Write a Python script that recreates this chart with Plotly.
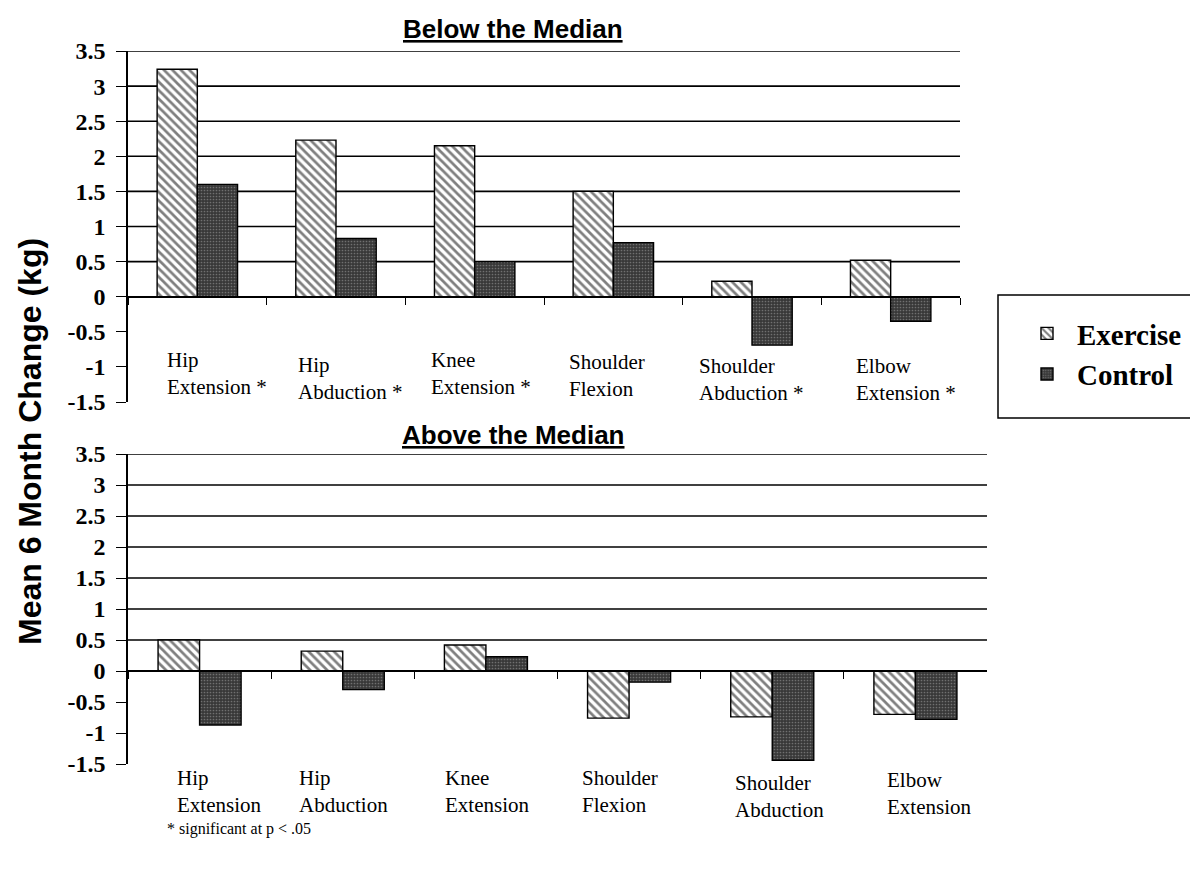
import plotly.graph_objects as go

# ---------------- data ----------------
CATEGORIES = ["Hip Extension", "Hip Abduction", "Knee Extension",
              "Shoulder Flexion", "Shoulder Abduction", "Elbow Extension"]
LABELS_BELOW = ["Hip<br>Extension *", "Hip<br>Abduction *", "Knee<br>Extension *",
                "Shoulder<br>Flexion", "Shoulder<br>Abduction *", "Elbow<br>Extension *"]
LABELS_ABOVE = ["Hip<br>Extension", "Hip<br>Abduction", "Knee<br>Extension",
                "Shoulder<br>Flexion", "Shoulder<br>Abduction", "Elbow<br>Extension"]
BELOW_EXERCISE = [3.24, 2.23, 2.15, 1.50, 0.22, 0.52]
BELOW_CONTROL = [1.60, 0.83, 0.50, 0.77, -0.69, -0.35]
ABOVE_EXERCISE = [0.50, 0.32, 0.42, -0.76, -0.74, -0.70]
ABOVE_CONTROL = [-0.87, -0.30, 0.23, -0.18, -1.44, -0.78]
Y_TICKS = [-1.5, -1, -0.5, 0, 0.5, 1, 1.5, 2, 2.5, 3, 3.5]
GRID_VALUES = [0, 0.5, 1, 1.5, 2, 2.5, 3, 3.5]
SERIES_NAMES = ["Exercise", "Control"]

# ---------------- layout helpers ----------------
W, H = 1198, 869
PAGE_OFFSET = 8  # the page body margin shifts the figure by this many pixels


def px(x):
    return (x - PAGE_OFFSET) / W


def py(y):
    return 1 - (y - PAGE_OFFSET) / H


SERIF = "Liberation Serif"
SANS = "Liberation Sans"
Y_RANGE = [-1.5, 3.5]

TOP_X = (128, 960)
TOP_Y = (51, 402)
BOT_X = (128, 987)
BOT_Y = (454, 764)


def tick_text(v):
    return "%g" % v


def zero_pos(ydom):
    lo, hi = py(ydom[1]), py(ydom[0])
    return lo + (0 - Y_RANGE[0]) / (Y_RANGE[1] - Y_RANGE[0]) * (hi - lo)


exercise_marker = dict(color="white", line=dict(color="black", width=1.4),
                       pattern=dict(shape="\\", fgcolor="black", bgcolor="white",
                                    size=6, solidity=0.45))
control_marker = dict(color="#383838", line=dict(color="black", width=1.4),
                      pattern=dict(shape=".", fgcolor="#a8a8a8", bgcolor="#383838",
                                   size=3, solidity=0.25))

fig = go.Figure()
fig.add_trace(go.Bar(x=CATEGORIES, y=BELOW_EXERCISE, name=SERIES_NAMES[0],
                     marker=exercise_marker, xaxis="x", yaxis="y"))
fig.add_trace(go.Bar(x=CATEGORIES, y=BELOW_CONTROL, name=SERIES_NAMES[1],
                     marker=control_marker, xaxis="x", yaxis="y"))
fig.add_trace(go.Bar(x=CATEGORIES, y=ABOVE_EXERCISE, name=SERIES_NAMES[0],
                     marker=exercise_marker, xaxis="x2", yaxis="y2", showlegend=False))
fig.add_trace(go.Bar(x=CATEGORIES, y=ABOVE_CONTROL, name=SERIES_NAMES[1],
                     marker=control_marker, xaxis="x2", yaxis="y2", showlegend=False))

ytick_font = dict(family=SERIF, size=24, color="black", weight="bold")


def xaxis_cfg(xdom, ydom):
    return dict(domain=[px(xdom[0]), px(xdom[1])], type="category",
                categoryorder="array", categoryarray=CATEGORIES,
                range=[-0.5, 5.5], anchor="free", position=zero_pos(ydom),
                showline=True, linecolor="black", linewidth=1.6,
                ticks="outside", tickson="boundaries", ticklen=7, tickwidth=1.4,
                tickcolor="black", showticklabels=False, showgrid=False,
                zeroline=False, fixedrange=True, automargin=False)


def yaxis_cfg(ydom, anchor):
    return dict(domain=[py(ydom[1]), py(ydom[0])], range=Y_RANGE, anchor=anchor,
                tickvals=Y_TICKS, ticktext=[tick_text(v) for v in Y_TICKS],
                tickfont=ytick_font, ticks="outside", ticklen=10, tickwidth=1.4,
                tickcolor="black", ticklabelstandoff=6,
                showline=True, linecolor="black", linewidth=1.6,
                showgrid=False, zeroline=False, fixedrange=True, automargin=False)


# horizontal grid lines (only for the non-negative values, as in the original)
shapes = []
for xr, yr in (("x domain", "y"), ("x2 domain", "y2")):
    for v in GRID_VALUES:
        shapes.append(dict(type="line", xref=xr, yref=yr, x0=0, x1=1, y0=v, y1=v,
                           layer="below", line=dict(color="black", width=1.6)))

# legend frame
shapes.append(dict(type="rect", xref="paper", yref="paper", x0=px(998), x1=px(1215),
                   y0=py(418), y1=py(295), line=dict(color="black", width=1.5),
                   fillcolor="rgba(0,0,0,0)", layer="above"))

annotations = []
TOP_LABEL_SHIFT = [-32, -40, -46, -46, -55, -37]
TOP_LABEL_Y = [373, 378, 373, 376, 380, 379]
BOT_LABEL_SHIFT = [-25, -46, -43, -49, -39, -30]
BOT_LABEL_Y = [791, 791, 791, 791, 796, 793]
for i, cat in enumerate(CATEGORIES):
    annotations.append(dict(x=cat, xref="x", y=py(TOP_LABEL_Y[i]), yref="paper",
                            text=LABELS_BELOW[i], showarrow=False, xanchor="left",
                            yanchor="middle", align="left", xshift=TOP_LABEL_SHIFT[i],
                            font=dict(family=SERIF, size=21, color="black")))
    annotations.append(dict(x=cat, xref="x2", y=py(BOT_LABEL_Y[i]), yref="paper",
                            text=LABELS_ABOVE[i], showarrow=False, xanchor="left",
                            yanchor="middle", align="left", xshift=BOT_LABEL_SHIFT[i],
                            font=dict(family=SERIF, size=21, color="black")))

annotations += [
    dict(x=px(513), y=py(29), xref="paper", yref="paper", showarrow=False,
         text="<b><u>Below the Median</u></b>", xanchor="center", yanchor="middle",
         font=dict(family=SANS, size=26, color="black")),
    dict(x=px(513), y=py(435), xref="paper", yref="paper", showarrow=False,
         text="<b><u>Above the Median</u></b>", xanchor="center", yanchor="middle",
         font=dict(family=SANS, size=26, color="black")),
    dict(x=px(30), y=py(442), xref="paper", yref="paper", showarrow=False,
         text="<b>Mean 6 Month Change (kg)</b>", textangle=-90,
         xanchor="center", yanchor="middle",
         font=dict(family=SANS, size=32, color="black")),
    dict(x=px(165), y=py(829), xref="paper", yref="paper", showarrow=False,
         text="* significant at p &lt; .05", xanchor="left", yanchor="middle",
         font=dict(family=SERIF, size=16, color="black")),
]

fig.update_layout(
    width=W, height=H,
    margin=dict(l=0, r=0, t=0, b=0, pad=0, autoexpand=False),
    paper_bgcolor="white", plot_bgcolor="white",
    barmode="group", bargap=0.42, bargroupgap=0,
    xaxis=xaxis_cfg(TOP_X, TOP_Y),
    yaxis=yaxis_cfg(TOP_Y, "x"),
    xaxis2=xaxis_cfg(BOT_X, BOT_Y),
    yaxis2=yaxis_cfg(BOT_Y, "x2"),
    showlegend=True,
    legend=dict(x=px(1017), y=py(308), xanchor="left", yanchor="top",
                bgcolor="rgba(0,0,0,0)", borderwidth=0, itemwidth=50,
                font=dict(family=SERIF, size=29, color="black", weight="bold"),
                tracegroupgap=0),
    annotations=annotations,
    shapes=shapes,
)

fig.write_html("out.html")
